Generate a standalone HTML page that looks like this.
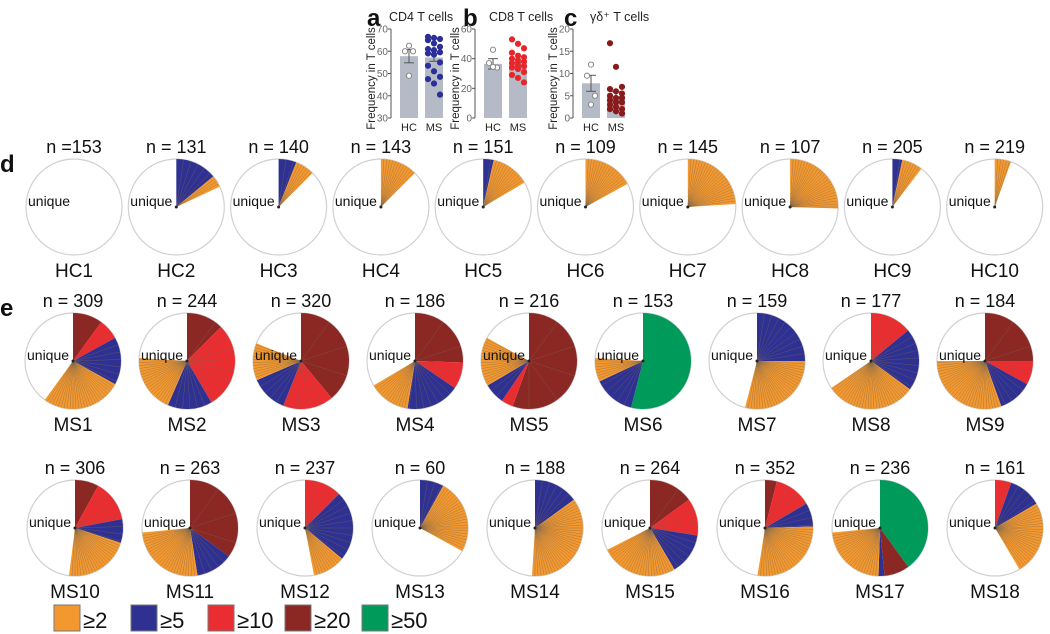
<!DOCTYPE html>
<html><head><meta charset="utf-8"><style>
body{margin:0;background:#fff;}
svg{display:block;font-family:"Liberation Sans",Arial,sans-serif;}
</style></head><body>
<svg id="fig" width="1050" height="634" viewBox="0 0 1050 634"></svg>
<script>
// ---- bar chart data ----
const barGroups = ['HC','MS'];
const cd4Means = [57.8, 57.2];
const cd4Err = [3, 1.7];
const cd4HC = [62.5, 60, 60, 49];
const cd4MS = [66.5,66,65.5,65,63.5,62,61,60.5,59.5,59,58.5,55,53.5,51,48.5,47.5,45.5,40.5];
const cd8Means = [36.5, 36];
const cd8Err = [3.5, 1.5];
const cd8HC = [46, 37, 34, 34.5];
const cd8MS = [53,50,47,44,42,41,40,39,38,37,36,35,34,33,31,29,27,24];
const gdMeans = [7.8, 4.9];
const gdErr = [1.8, 1];
const gdHC = [12, 9.5, 5, 3];
const gdMS = [16.8,11.5,7,6.5,6,5.5,5,4.5,4.5,4,3.5,3.5,3,2.5,2,2,1.5,1];
const cd4Ticks = [30,40,50,60,70];
const cd8Ticks = [0,20,40,60];
const gdTicks = [0,5,10,15,20];

// ---- pie data (percent of clones) ----
const hcNames = ['HC1','HC2','HC3','HC4','HC5','HC6','HC7','HC8','HC9','HC10'];
const hcN = ['n =153','n = 131','n = 140','n = 143','n = 151','n = 109','n = 145','n = 107','n = 205','n = 219'];
const hcBlue = [0,14,6,0,3.5,0,0,0,3.3,0];
const hcOrange = [0,4,6.5,12.5,13,17,24,25.5,7,5.5];
const msNames = ['MS1','MS2','MS3','MS4','MS5','MS6','MS7','MS8','MS9','MS10','MS11','MS12','MS13','MS14','MS15','MS16','MS17','MS18'];
const msN = [309,244,320,186,216,153,159,177,184,306,263,237,60,188,264,352,236,161];
const msGreen = [0,0,0,0,0,54,0,0,0,0,0,0,0,0,0,0,40,0];
const msDarkred = [10,12.5,39,25.5,55.5,0,0,0,25,8,35,0,0,0,15,4,8.5,0];
const msRed = [7,29,17,9,4,0,0,14,8,14,0,12.5,0,0,12.5,12.5,0,5.5];
const msBlue = [16,15,12.5,18,7,14,25,21,11.5,8,12.5,23.5,8,15,14,8,2,11];
const msOrange = [27,19.5,12.5,14,16.5,8,29,30.5,30.5,22,26,11,25,36,26,28,23,25];
const legendLabels = ['≥2','≥5','≥10','≥20','≥50'];

const COLORS = {green:'#009a5a',darkred:'#8b2824',red:'#ea2d30',blue:'#2e3192',orange:'#f3982f'};
const NS='http://www.w3.org/2000/svg';
const svg=document.getElementById('fig');
function mk(tag,attrs,parent){const e=document.createElementNS(NS,tag);for(const k in attrs)e.setAttribute(k,attrs[k]);(parent||svg).appendChild(e);return e;}
function txt(s,attrs,parent){const e=mk('text',attrs,parent);e.textContent=s;return e;}

// ---------- bar panels ----------
function barPanel(cfg){
  const g=mk('g',{});
  
  
  const y0=118,y1=29;
  const ys=v=>y0-(v-cfg.min)/(cfg.max-cfg.min)*(y0-y1);
  const ax=cfg.ax;
  const l=txt(cfg.letter,{x:cfg.lx,y:26,'font-size':24,'font-weight':'bold',fill:'#111'},g);
  
  
  const t=txt(cfg.title,{x:cfg.tx,y:21,'font-size':12.5,fill:'#222'},g);
  
  
  mk('line',{x1:ax,y1:y1,x2:ax,y2:y0,stroke:'#555','stroke-width':1},g);
  cfg.ticks.forEach(v=>{
    mk('line',{x1:ax-3,y1:ys(v),x2:ax,y2:ys(v),stroke:'#555'},g);
    const tk=txt(String(v),{x:ax-3,y:ys(v)+3.5,'font-size':10,fill:'#666','text-anchor':'end'},g);
    
    
  });
  const yl=txt('Frequency in T cells',{x:0,y:0,'font-size':11.5,fill:'#222','text-anchor':'middle',transform:`translate(${ax-16},${(y0+y1)/2+5}) rotate(-90)`},g);
  
  
  const bx=[ax+9,ax+34];
  const pts=[cfg.hc,cfg.ms];
  barGroups.forEach((grp,i)=>{
    const b=mk('rect',{x:bx[i],y:ys(cfg.means[i]),width:18,height:y0-ys(cfg.means[i]),fill:'#b5bbc6'},g);
    
    
    const cx=bx[i]+9;
    mk('line',{x1:cx,y1:ys(cfg.means[i]-cfg.err[i]),x2:cx,y2:ys(cfg.means[i]+cfg.err[i]),stroke:'#555'},g);
    mk('line',{x1:cx-5,y1:ys(cfg.means[i]+cfg.err[i]),x2:cx+5,y2:ys(cfg.means[i]+cfg.err[i]),stroke:'#555'},g);
    mk('line',{x1:cx-5,y1:ys(cfg.means[i]-cfg.err[i]),x2:cx+5,y2:ys(cfg.means[i]-cfg.err[i]),stroke:'#555'},g);
    pts[i].forEach((v,j)=>{
      const off = i==0 ? [0,-4,4,0][j%4] : ((j%3)-1)*6;
      const c=mk('circle',{cx:cx+off,cy:ys(v),r:2.6,fill:i==0?'#fff':cfg.color,stroke:i==0?'#888':cfg.color,'stroke-width':1},g);
      
      
    });
    const gl=txt(grp,{x:cx,y:131,'font-size':11,fill:'#222','text-anchor':'middle'},g);
    
    
  });
}
barPanel({name:'cd4-panel',letter:'a',title:'CD4 T cells',ax:391,lx:367,tx:389,min:30,max:70,ticks:cd4Ticks,means:cd4Means,err:cd4Err,hc:cd4HC,ms:cd4MS,color:'#2b2f9a'});
barPanel({name:'cd8-panel',letter:'b',title:'CD8 T cells',ax:475,lx:463,tx:489,min:0,max:60,ticks:cd8Ticks,means:cd8Means,err:cd8Err,hc:cd8HC,ms:cd8MS,color:'#e8262a'});
barPanel({name:'gd-panel',letter:'c',title:'γδ⁺ T cells',ax:573,lx:564,tx:590,min:0,max:20,ticks:gdTicks,means:gdMeans,err:gdErr,hc:gdHC,ms:gdMS,color:'#8b1a1a'});

// ---------- pies ----------
function pt(cx,cy,r,pct){const a=pct/100*2*Math.PI;return [cx+r*Math.sin(a),cy-r*Math.cos(a)];}
function wedge(g,cx,cy,r,p0,p1,fill){
  const [x0,y0]=pt(cx,cy,r,p0),[x1,y1]=pt(cx,cy,r,p1);
  const large=(p1-p0)>50?1:0;
  return mk('path',{d:`M${cx},${cy} L${x0},${y0} A${r},${r} 0 ${large} 1 ${x1},${y1} Z`,fill:fill,stroke:'none'},g);
}
function pie(name,cx,cy,nLabel,segs){
  const r=48;
  const g=mk('g',{});
  
  
  mk('circle',{cx:cx,cy:cy,r:r,fill:'#fff',stroke:'#d0d0d0','stroke-width':1.2},g);
  let p=0;
  const step={green:100,darkred:10,red:4,blue:2.5,orange:1};
  segs.forEach(s=>{
    if(s.v<=0)return;
    const w=wedge(g,cx,cy,r,p,p+s.v,COLORS[s.k]);
    
    
    const st=step[s.k];
    for(let q=p+st;q<p+s.v-0.3;q+=st){
      const [x,y]=pt(cx,cy,r,q);
      mk('line',{x1:cx,y1:cy,x2:x,y2:y,stroke:'#7a6650','stroke-width':0.45,'stroke-opacity':0.7},g);
    }
    p+=s.v;
  });
  if(p>0) mk('circle',{cx:cx,cy:cy,r:1.5,fill:'#222'},g);
  const u=txt('unique',{x:cx-46,y:cy-1,'font-size':14,fill:'#111'},g);
  
  
  const n=txt(nLabel,{x:cx,y:cy-54,'font-size':18,fill:'#111','text-anchor':'middle'},g);
  
  
  const nm=txt(name,{x:cx,y:cy+70,'font-size':19,fill:'#111','text-anchor':'middle'},g);
  
  
}
const dL=txt('d',{x:0,y:172,'font-size':24,'font-weight':'bold',fill:'#111'});


const eL=txt('e',{x:0,y:316,'font-size':24,'font-weight':'bold',fill:'#111'});



hcNames.forEach((nm,i)=>{
  pie(nm,74+i*102.3,207,hcN[i],[{k:'blue',v:hcBlue[i]},{k:'orange',v:hcOrange[i]}]);
});
msNames.forEach((nm,i)=>{
  const row=i<9?0:1, j=i%9;
  const cx=row==0?73+j*114:75+j*115;
  const cy=row==0?361:528;
  pie(nm,cx,cy,'n = '+msN[i],[{k:'green',v:msGreen[i]},{k:'darkred',v:msDarkred[i]},{k:'red',v:msRed[i]},{k:'blue',v:msBlue[i]},{k:'orange',v:msOrange[i]}]);
});

// legend
const legKeys=['orange','blue','red','darkred','green'];
const legG=mk('g',{});


legKeys.forEach((k,i)=>{
  const x=54+i*77;
  const e=mk('g',{},legG);
  
  
  mk('rect',{x:x,y:605,width:26,height:26,fill:COLORS[k],stroke:'#777','stroke-width':1},e);
  txt(legendLabels[i],{x:x+29,y:628,'font-size':22,fill:'#111'},e);
});
</script>
</body></html>
